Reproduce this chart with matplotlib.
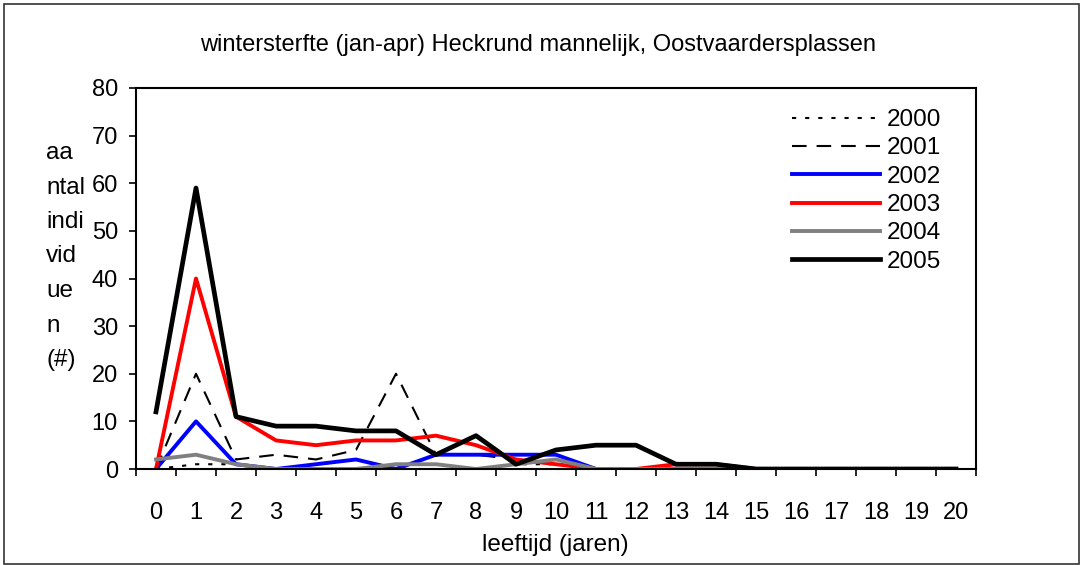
import matplotlib
matplotlib.use("Agg")
import matplotlib.pyplot as plt
from matplotlib.patches import Rectangle

plt.rcParams['font.family'] = ['Liberation Sans', 'DejaVu Sans']

ages = list(range(0, 21))
age_labels = [str(a) for a in ages]

y2000 = [0, 1, 1, 0, 0, 0, 0, 0, 0, 1, 1, 0, 0, 0, 0, 0, 0, 0, 0, 0, 0]
y2001 = [0, 20, 2, 3, 2, 4, 20, 3, 3, 2, 1, 0, 0, 0, 0, 0, 0, 0, 0, 0, 0]
y2002 = [0, 10, 1, 0, 1, 2, 0, 3, 3, 3, 3, 0, 0, 0, 0, 0, 0, 0, 0, 0, 0]
y2003 = [0, 40, 11, 6, 5, 6, 6, 7, 5, 2, 1, 0, 0, 1, 1, 0, 0, 0, 0, 0, 0]
y2004 = [2, 3, 1, 0, 0, 0, 1, 1, 0, 1, 2, 0, 0, 0, 0, 0, 0, 0, 0, 0, 0]
y2005 = [12, 59, 11, 9, 9, 8, 8, 3, 7, 1, 4, 5, 5, 1, 1, 0, 0, 0, 0, 0, 0]

yticks = [0, 10, 20, 30, 40, 50, 60, 70, 80]

fig = plt.figure(figsize=(10.8, 5.65), dpi=100)
fig.patches.append(Rectangle((4/1080, 1/565), 1075/1080, 560/565, transform=fig.transFigure,
                             fill=False, edgecolor='#333333', linewidth=1.2))
ax = fig.add_axes([136/1080, 96/565, 840/1080, 381/565])

ax.plot(ages, y2000, color='black', lw=1.5, dashes=(2, 4.3), label='2000')
ax.plot(ages, y2001, color='black', lw=1.5, dashes=(7, 4.8), label='2001')
ax.plot(ages, y2002, color='#0000ff', lw=2.8, label='2002')
ax.plot(ages, y2003, color='#ff0000', lw=2.8, label='2003')
ax.plot(ages, y2004, color='#808080', lw=2.8, label='2004')
ax.plot(ages, y2005, color='black', lw=3.4, label='2005')

ax.set_xlim(-0.5, 20.5)
ax.set_ylim(0, 80)
ax.set_yticks(yticks)
ax.set_xticks(ages)
ax.set_xticklabels(age_labels)
ax.set_xticks([a - 0.5 for a in ages] + [20.5], minor=True)
ax.tick_params(axis='x', which='major', length=0, pad=24, labelsize=17)
ax.tick_params(axis='x', which='minor', length=5, width=1.2, direction='out')
ax.tick_params(axis='y', length=5, width=1.2, direction='out', pad=8, labelsize=17)
for s in ax.spines.values():
    s.set_linewidth(1.5)

fig.text(538/1080, 1 - 45/565, 'wintersterfte (jan-apr) Heckrund mannelijk, Oostvaardersplassen',
         ha='center', va='center', fontsize=17)
fig.text(555/1080, 1 - 545/565, 'leeftijd (jaren)', ha='center', va='center', fontsize=17.5)

ylab_lines = ['aa', 'ntal', 'indi', 'vid', 'ue', 'n', '(#)']
for i, t in enumerate(ylab_lines):
    fig.text(46/1080, 1 - (153 + i * 34.5) / 565, t, ha='left', va='center', fontsize=17.5)

leg = ax.legend(loc='upper left', bbox_to_anchor=(656/840, 1 - 21/381), frameon=False,
                handlelength=3.6, handletextpad=0.3, labelspacing=0.26, fontsize=17.5,
                borderpad=0, borderaxespad=0)

fig.savefig('out.png', dpi=100)
